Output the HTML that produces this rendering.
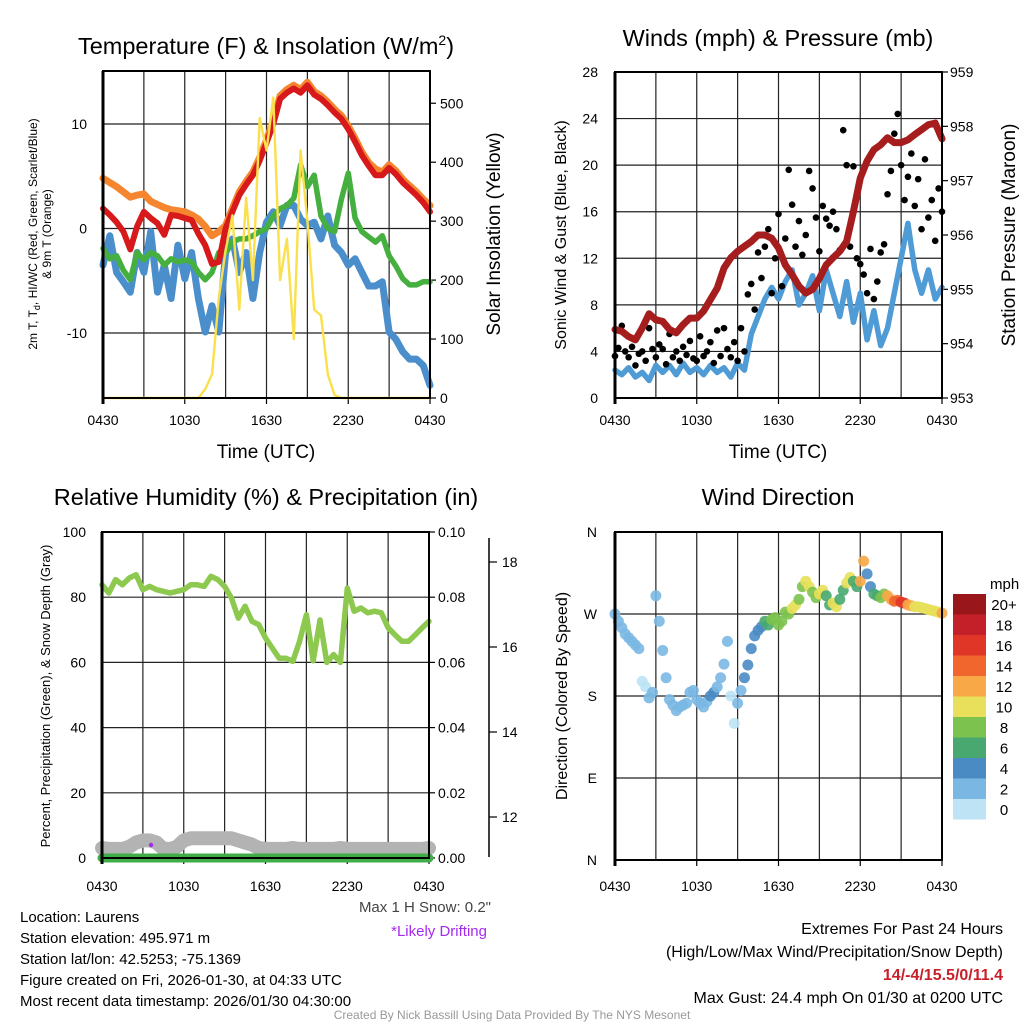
<!DOCTYPE html>
<html><head><meta charset="utf-8">
<style>
body{margin:0;background:#fff;}
svg{display:block;font-family:"Liberation Sans",Arial,sans-serif;}
</style></head>
<body>
<svg id="fig" width="1024" height="1024" viewBox="0 0 1024 1024" xmlns="http://www.w3.org/2000/svg">
<rect width="1024" height="1024" fill="#fff"/>
<g id="p1"></g>
<g id="p2"></g>
<g id="p3"></g>
<g id="p4"></g>

<text x="266" y="54" font-size="23.5" text-anchor="middle">Temperature (F) &amp; Insolation (W/m<tspan font-size="14" dy="-9">2</tspan><tspan dy="9">)</tspan></text>
<text x="778" y="46" font-size="23.5" text-anchor="middle">Winds (mph) &amp; Pressure (mb)</text>
<text x="266" y="505" font-size="23.5" text-anchor="middle">Relative Humidity (%) &amp; Precipitation (in)</text>
<text x="778" y="505" font-size="23.5" text-anchor="middle">Wind Direction</text>

<text x="266" y="458" font-size="19" text-anchor="middle">Time (UTC)</text>
<text x="778" y="458" font-size="19" text-anchor="middle">Time (UTC)</text>

<text transform="translate(37,234) rotate(-90)" font-size="12" text-anchor="middle">2m T, T<tspan font-size="9" dy="3">d</tspan><tspan dy="-3">, HI/WC (Red, Green, Scarlet/Blue)</tspan></text>
<text transform="translate(51,234) rotate(-90)" font-size="12" text-anchor="middle">&amp; 9m T (Orange)</text>
<text transform="translate(500,234) rotate(-90)" font-size="19" text-anchor="middle">Solar Insolation (Yellow)</text>
<text transform="translate(566,235) rotate(-90)" font-size="16" text-anchor="middle">Sonic Wind &amp; Gust (Blue, Black)</text>
<text transform="translate(1015,235) rotate(-90)" font-size="19" text-anchor="middle">Station Pressure (Maroon)</text>
<text transform="translate(50,696) rotate(-90)" font-size="13" text-anchor="middle">Percent, Precipitation (Green), &amp; Snow Depth (Gray)</text>
<text transform="translate(567,696) rotate(-90)" font-size="16" text-anchor="middle">Direction (Colored By Speed)</text>

<text x="491" y="912" font-size="15" fill="#444" text-anchor="end">Max 1 H Snow: 0.2"</text>
<text x="487" y="936" font-size="15" fill="#a52af0" text-anchor="end">*Likely Drifting</text>

<g font-size="15">
<text x="20" y="922">Location: Laurens</text>
<text x="20" y="943">Station elevation: 495.971 m</text>
<text x="20" y="964">Station lat/lon: 42.5253; -75.1369</text>
<text x="20" y="985">Figure created on Fri, 2026-01-30, at 04:33 UTC</text>
<text x="20" y="1006">Most recent data timestamp: 2026/01/30 04:30:00</text>
</g>
<g font-size="16" text-anchor="end">
<text x="1003" y="934">Extremes For Past 24 Hours</text>
<text x="1003" y="957">(High/Low/Max Wind/Precipitation/Snow Depth)</text>
<text x="1003" y="980" fill="#c8202a" font-weight="bold">14/-4/15.5/0/11.4</text>
<text x="1003" y="1003">Max Gust: 24.4 mph On 01/30 at 0200 UTC</text>
</g>
<text x="512" y="1019" font-size="12" fill="#999" text-anchor="middle">Created By Nick Bassill Using Data Provided By The NYS Mesonet</text>
</svg>
<script>
// ---------- data ----------
const timeLabels = ["0430","1030","1630","2230","0430"];
const temp9m = [4.8,4.4,4.0,3.5,3.0,3.2,3.3,2.6,2.3,2.0,1.8,1.7,1.6,1.3,0.9,0.2,-0.7,-0.3,0.3,1.9,3.5,4.5,5.4,6.8,8.5,10.3,12.7,13.3,13.7,13.3,14.0,13.1,12.7,12.1,11.4,10.8,9.8,8.6,7.3,6.3,5.7,5.4,6.1,5.5,4.7,4.1,3.5,2.8,2.2];
const temp2m = [1.9,1.3,0.6,-0.3,-2.0,0.2,1.6,1.0,0.5,-0.6,1.3,1.2,1.0,0.8,-0.5,-1.6,-3.4,-3.2,0.0,1.6,3.2,4.2,5.1,6.5,8.2,10.0,12.4,13.0,13.4,13.0,13.7,12.8,12.4,11.8,11.1,10.5,9.5,8.3,7.0,6.0,5.1,5.1,5.8,5.2,4.4,3.8,3.2,2.5,1.6];
const dewpoint = [-1.9,-2.9,-2.6,-4.0,-4.9,-2.3,-3.0,-2.3,-2.6,-3.5,-2.9,-3.2,-3.0,-3.2,-4.2,-4.9,-4.2,-2.3,-2.3,-1.3,-1.0,-1.0,-0.7,-0.3,0.0,1.2,1.9,2.2,2.9,6.1,4.0,5.1,1.2,0.0,-0.3,2.8,5.3,1.0,-0.3,-0.8,-1.3,-0.7,-2.6,-3.6,-4.8,-5.4,-5.4,-5.1,-5.1];
const windChill = [-3.5,-0.7,-4.2,-5.1,-6.1,-2.3,-4.2,-0.3,-6.1,-3.5,-6.7,-1.6,-4.8,-2.3,-6.7,-9.9,-7.4,-9.9,-2.3,-1.0,-4.2,-2.3,-6.7,-2.3,0.6,1.6,0.3,2.2,2.2,0.9,0.3,0.6,-1.0,1.2,-1.6,-2.3,-3.5,-2.9,-4.2,-5.5,-5.5,-5.1,-9.9,-10.6,-11.8,-12.5,-12.5,-13.1,-15.0];
const solarHours = [0,7,7.5,8,8.5,9,9.5,10,10.5,11,11.5,12,12.5,13,13.5,14,14.5,15,15.5,16,16.5,17,17.5,18,24];
const solar =      [0,0,15,40,170,250,310,150,340,200,475,420,510,200,270,100,420,300,150,140,40,5,0,0,0];
const pressure = [954.26,954.23,954.13,954.07,954.29,954.55,954.44,954.41,954.26,954.2,954.35,954.47,954.47,954.6,954.81,955.02,955.39,955.58,955.7,955.79,955.88,956.0,956.0,955.94,955.76,955.45,955.27,955.06,954.93,955.0,955.2,955.45,955.58,955.7,955.88,956.43,957.05,957.36,957.57,957.66,957.79,957.7,957.7,957.75,957.85,957.94,958.03,958.06,957.77];
const sonicWind = [2.4,2.0,2.6,1.8,2.2,1.5,2.8,2.2,2.8,2.0,3.0,2.2,2.6,2.0,2.8,2.2,2.6,1.8,3.0,2.4,5.5,7.0,8.5,9.5,8.5,10.0,11.0,8.0,9.0,10.5,7.5,11.0,9.0,7.0,10.0,6.5,9.0,5.0,7.5,4.5,6.0,9.0,12.0,15.0,11.0,9.0,11.0,8.5,9.5];
const gusts = [3.6,4.3,6.2,4.0,3.5,4.4,2.8,3.8,4.0,3.2,6.0,4.2,3.5,4.6,4.2,2.9,5.5,3.5,4.0,3.2,4.4,3.7,4.9,3.4,3.2,5.3,3.6,4.0,4.8,3.0,5.8,3.6,6.0,4.2,3.5,4.8,3.2,6.0,4.0,8.9,9.8,7.6,12.5,10.3,13.0,14.5,9.0,12.0,15.8,9.6,13.7,19.6,16.6,13.0,15.2,12.3,14.0,19.5,18.0,15.5,12.6,16.5,15.4,14.8,16.0,14.5,12.7,23.0,20.0,13.0,19.9,12.0,11.5,10.6,9.0,12.8,8.5,10.0,12.5,13.2,17.5,19.5,22.7,24.4,20.0,17.0,19.0,21.0,16.5,18.8,14.5,20.5,15.5,17.0,13.5,18.0,16.0];
const rh = [83.8,81.3,85.4,83.8,85.9,86.9,82.3,83.3,82.3,81.8,81.3,81.8,82.3,83.8,83.8,83.3,86.4,85.4,83.3,79.8,73.6,77.2,72.6,71.6,67.5,64.4,61.3,61.3,60.3,66.5,74.6,60.5,73.0,60.0,62.4,60.0,82.8,75.7,76.7,75.2,75.7,75.2,70.6,68.5,66.5,66.5,68.5,70.6,72.6];
const precip = [0,0,0,0,0,0,0,0,0,0,0,0,0,0,0,0,0,0,0,0,0,0,0,0,0,0,0,0,0,0,0,0,0,0,0,0,0,0,0,0,0,0,0,0,0,0,0,0,0];
const snowDepth = [11.27,11.25,11.25,11.25,11.3,11.4,11.45,11.45,11.4,11.25,11.25,11.3,11.45,11.5,11.5,11.5,11.5,11.5,11.5,11.5,11.45,11.4,11.35,11.27,11.25,11.25,11.25,11.25,11.27,11.25,11.25,11.25,11.25,11.25,11.25,11.27,11.25,11.25,11.25,11.25,11.25,11.25,11.25,11.25,11.25,11.25,11.25,11.25,11.27];
const direction = [270,262,255,248,244,240,236,232,196,190,178,184,290,262,230,200,176,170,164,168,170,172,184,186,176,172,168,174,180,184,190,200,215,240,180,150,172,186,200,214,232,246,252,256,262,258,264,266,258,262,272,270,276,280,286,300,306,300,294,288,292,296,290,280,282,278,286,296,304,310,306,300,306,328,314,300,292,290,288,292,290,286,284,285,283,282,280,279,278,278,277,276,275,274,273,272,271];
const dirSpeed = [2.5,2.5,3,3,1.5,3,3,2.5,3,3,3.5,3,2.5,3,4.5,3,3,1.5,2.5,4.5,5,5.5,7,8.5,8,9,10.5,8,11,9,10.5,7,10,6.5,11,7,13,5,6,8,12,14,16,13,11,10,10.5,11,13];
const speedBins = ["0","2","4","6","8","10","12","14","16","18","20+"];
const binColors = ["#bde3f5","#7ab8e3","#4a8bc4","#48a86f","#7cc24e","#e8e05a","#f8a847","#f0662d","#e03628","#c4202a","#99161b"];

// ---------- helpers ----------
const NS="http://www.w3.org/2000/svg";
function mk(tag,attrs,parent){const e=document.createElementNS(NS,tag);for(const k in attrs)e.setAttribute(k,attrs[k]);parent.appendChild(e);return e;}
function hx(P,h){return P.x0+h/24*(P.x1-P.x0);}
function pathFrom(xs,ys){return xs.map((x,i)=>(i?"L":"M")+x.toFixed(1)+" "+ys[i].toFixed(1)).join(" ");}
function frame(P,g,xLabY){
  for(let k=1;k<8;k++){const x=hx(P,k*3);
    const l=mk("line",{x1:x,x2:x,y1:P.y0,y2:P.y1,stroke:"#222","stroke-width":1.2},g);
    
    }
  for(let k=0;k<5;k++){const x=hx(P,k*6);
    const t=mk("text",{x:x,y:xLabY,"font-size":14,"text-anchor":"middle"},g);t.textContent=timeLabels[k];
    
    
    const tk=mk("line",{x1:x,x2:x,y1:P.y1,y2:P.y1+6,stroke:"#000","stroke-width":1.2},g);
    
    }
}
function hgrid(g,P,y){const l=mk("line",{x1:P.x0,x2:P.x1,y1:y,y2:y,stroke:"#222","stroke-width":1.2},g);
  
  }
function label(g,x,y,txt,anchor,size,name){const t=mk("text",{x:x,y:y,"font-size":size||14,"text-anchor":anchor||"end"},g);t.textContent=txt;
  
  return t;}
function border(g,P){const r=mk("rect",{x:P.x0,y:P.y0,width:P.x1-P.x0,height:P.y1-P.y0,fill:"none",stroke:"#000","stroke-width":2},g);
  
  
  const l=mk("line",{x1:P.x0,x2:P.x0,y1:P.y0,y2:P.y1+6,stroke:"#000","stroke-width":3},g);
  
  }
function series(g,xs,ys,color,w,name){const p=mk("path",{d:pathFrom(xs,ys),fill:"none",stroke:color,"stroke-width":w,"stroke-linejoin":"round","stroke-linecap":"round"},g);
  
  return p;}

// ---------- panel 1 ----------
(function(){
  const g=document.getElementById("p1");
  const P={x0:103,x1:430,y0:71,y1:398};
  const yT=v=>228.5-v*10.45, yS=v=>398-v*0.5895;
  frame(P,g,425);
  [10,0,-10].forEach(v=>{hgrid(g,P,yT(v));label(g,87,yT(v)+5,String(v),"end",14,'temp-tick-label');});
  [0,100,200,300,400,500].forEach(v=>{label(g,440,yS(v)+5,String(v),"start",14,'solar-tick-label');
    const t=mk("line",{x1:P.x1,x2:P.x1+6,y1:yS(v),y2:yS(v),stroke:"#000","stroke-width":1.2},g);
    
    });
  const xs=temp2m.map((_,i)=>hx(P,i*0.5));
  series(g,xs,windChill.map(yT),"#4a8fcc",7,"wind-chill-line");
  series(g,xs,dewpoint.map(yT),"#45b03f",5.5,"dewpoint-line");
  series(g,xs,temp9m.map(yT),"#f5862f",7,"temp-9m-line");
  series(g,xs,temp2m.map(yT),"#d7191c",6,"temp-2m-line");
  series(g,solarHours.map(h=>hx(P,h)),solar.map(yS),"#f9e04c",2.4,"solar-line");
  border(g,P);
})();

// ---------- panel 2 ----------
(function(){
  const g=document.getElementById("p2");
  const P={x0:615,x1:942,y0:72,y1:398};
  const yW=v=>398-v*(326/28), yP=v=>398-(v-953)*(326/6);
  frame(P,g,425);
  [0,4,8,12,16,20,24,28].forEach(v=>{if(v>0&&v<28)hgrid(g,P,yW(v));label(g,598,yW(v)+5,String(v),"end",14,'wind-tick-label');});
  [953,954,955,956,957,958,959].forEach(v=>{label(g,950,yP(v)+5,String(v),"start",14,'pressure-tick-label');
    const t=mk("line",{x1:P.x1,x2:P.x1+6,y1:yP(v),y2:yP(v),stroke:"#000","stroke-width":1.2},g);
    
    });
  series(g,sonicWind.map((_,i)=>hx(P,i*0.5)),sonicWind.map(yW),"#4f9bd6",5.5,"sonic-wind-line");
  gusts.forEach((v,j)=>{const c=mk("circle",{cx:hx(P,j*0.25),cy:yW(v),r:3.3,fill:"#000"},g);
    
    });
  series(g,pressure.map((_,i)=>hx(P,i*0.5)),pressure.map(yP),"#a51d1d",7,"pressure-line");
  border(g,P);
})();

// ---------- panel 3 ----------
(function(){
  const g=document.getElementById("p3");
  const P={x0:102,x1:429,y0:532,y1:858};
  const yR=v=>858-v*3.26, yPr=v=>858-v*3260, ySn=v=>817-(v-12)*42.5;
  frame(P,g,891);
  [0,20,40,60,80,100].forEach(v=>{if(v>0&&v<100)hgrid(g,P,yR(v));label(g,86,yR(v)+5,String(v),"end",14,'humidity-tick-label');});
  [0,0.02,0.04,0.06,0.08,0.10].forEach(v=>{label(g,438,yPr(v)+5,v.toFixed(2),"start",14,'precip-tick-label');
    const t=mk("line",{x1:P.x1,x2:P.x1+6,y1:yPr(v),y2:yPr(v),stroke:"#000","stroke-width":1.2},g);
    
    });
  const sa=mk("line",{x1:489,x2:489,y1:538,y2:857,stroke:"#000","stroke-width":1.5},g);
  
  
  [12,14,16,18].forEach(v=>{label(g,502,ySn(v)+5,String(v),"start",14,'snow-tick-label');
    const t=mk("line",{x1:489,x2:497,y1:ySn(v),y2:ySn(v),stroke:"#000","stroke-width":1.2},g);
    
    });
  const xs=rh.map((_,i)=>hx(P,i*0.5));
  series(g,xs,snowDepth.map(ySn),"#b3b3b3",14,"snow-depth-line");
  series(g,xs,precip.map(yPr),"#3fae49",9,"precipitation-line");
  series(g,xs,rh.map(yR),"#8dc84f",5.5,"humidity-line");
  const d=mk("circle",{cx:hx(P,3.6),cy:845,r:2.2,fill:"#a52af0"},g);
  
  
  border(g,P);
})();

// ---------- panel 4 ----------
(function(){
  const g=document.getElementById("p4");
  const P={x0:615,x1:942,y0:532,y1:860};
  const yD=v=>860-v/360*328;
  frame(P,g,891);
  const dl=["N","E","S","W","N"];
  [0,90,180,270,360].forEach((v,k)=>{if(v>0&&v<360)hgrid(g,P,yD(v));label(g,597,yD(v)+5,dl[k],"end",14,'direction-tick-label');});
  function col(s){let b=Math.min(10,Math.floor(s/2));return binColors[b];}
  direction.forEach((v,j)=>{const c=mk("circle",{cx:hx(P,j*0.25),cy:yD(v),r:5.5,fill:col(dirSpeed[Math.floor(j/2)]),"fill-opacity":0.9},g);
    
    });
  border(g,P);
  const lg=mk("g",{},document.getElementById("fig"));
  
  
  label(lg,990,589,"mph","start",15,'colorbar-title');
  for(let k=0;k<11;k++){const y=594+(10-k)*20.5;
    const r=mk("rect",{x:953,y:y,width:33,height:20.5,fill:binColors[k]},lg);
    
    
    label(lg,1004,y+16,speedBins[k],"middle",15,'colorbar-label');}
})();
</script>
</body></html>
